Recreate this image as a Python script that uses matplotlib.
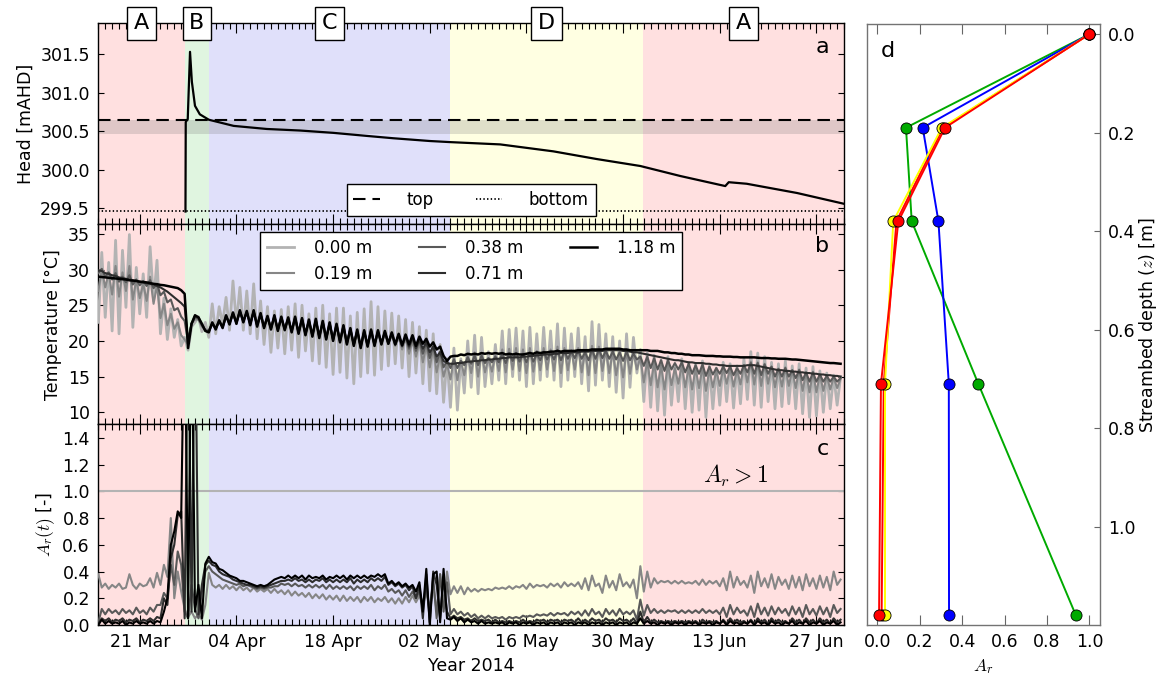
import numpy as np
import matplotlib
matplotlib.use('Agg')
import matplotlib.pyplot as plt
import matplotlib.transforms as mtransforms
from matplotlib.ticker import MultipleLocator, FixedLocator, FormatStrFormatter

# ---------------- data ----------------
# x axis: days since 15 Mar 2014
tick_days = [6, 20, 34, 48, 62, 76, 90, 104]
tick_labels = ['21 Mar', '04 Apr', '18 Apr', '02 May', '16 May', '30 May', '13 Jun', '27 Jun']

region_names = ['A', 'B', 'C', 'D', 'A']
region_edges = [0, 12.55, 16.0, 50.95, 78.85, 108]
region_colors = ['#ffe0e0', '#e0f5e0', '#e0e0fa', '#ffffe2', '#ffe0e0']

# panel a: hydraulic head
head_days = [12.62, 12.66, 12.95, 13.28, 13.55, 14.0, 14.7, 16.0, 19.6, 24.4, 29.2, 34.0,
             38.9, 42.7, 48.0, 50.9, 58.2, 65.9, 72.2, 78.5, 84.3, 90.8, 91.3, 93.9, 101.2, 108.0]
head_vals = [299.46, 300.62, 300.66, 301.53, 301.14, 300.83, 300.72, 300.65, 300.57, 300.53, 300.51, 300.48,
             300.44, 300.41, 300.374, 300.36, 300.33, 300.24, 300.14, 300.05, 299.92, 299.79, 299.84, 299.82, 299.70, 299.56]
streambed_top = 300.64
streambed_bottom = 299.47
band_lo, band_hi = 300.46, 300.64

# panel b: temperature, half-day samples (d.0, d.5) from 15 Mar
depth_labels = ['0.00 m', '0.19 m', '0.38 m', '0.71 m', '1.18 m']
temp_000 = [
    22.6, 32.4, 23.3, 31.0, 21.4, 34.1, 21.0, 32.7, 24.7, 34.9,
    21.9, 30.3, 23.8, 29.4, 23.3, 33.2, 25.6, 31.3, 21.0, 26.0,
    20.2, 24.5, 20.5, 23.0, 19.3, 20.5,
    18.7, 22.0, 22.6, 23.4, 21.3, 22.6,
    20.5, 25.2, 21.0, 24.8, 22.4, 26.1, 21.5, 28.4, 22.4, 27.5,
    21.5, 27.0, 21.0, 28.0, 20.3, 25.6, 19.5, 24.8, 18.4, 24.2,
    19.0, 24.4, 18.2, 24.8, 18.7, 25.2, 17.7, 25.0, 18.6, 23.8,
    17.2, 24.6, 16.8, 25.0, 16.3, 23.8, 15.3, 24.6, 15.6, 24.6,
    14.8, 23.5, 14.0, 24.0, 15.0, 24.5, 15.5, 25.5, 15.2, 24.8,
    16.0, 24.2, 16.5, 23.9, 16.8, 23.5, 16.2, 23.0, 15.0, 22.6,
    15.5, 22.0, 14.0, 21.5, 13.0, 21.0, 12.6, 19.5, 11.4, 17.5,
    10.7, 19.0, 10.3, 17.5, 12.7, 20.0, 13.5, 20.8, 12.6, 20.5,
    13.6, 18.5, 14.0, 19.5, 14.5, 21.4, 14.0, 21.6, 15.0, 21.8,
    14.5, 21.4, 13.6, 21.9, 14.0, 21.0, 14.5, 21.9, 15.0, 21.4,
    14.5, 22.4, 13.6, 21.8, 14.5, 21.0, 15.0, 21.8, 14.0, 20.6,
    13.0, 22.7, 13.8, 22.3, 14.5, 21.0, 13.6, 20.6, 12.8, 20.0,
    12.0, 21.0, 13.5, 20.5, 15.5, 18.8,
    11.5, 18.3, 10.7, 18.0, 10.2, 17.3, 9.6, 17.8, 11.0, 16.4,
    11.5, 17.5, 10.5, 17.0, 10.0, 16.8, 10.3, 17.2, 9.3, 16.5,
    10.5, 16.2, 11.0, 17.0, 11.5, 16.8, 10.6, 16.5, 11.2, 17.5,
    11.8, 18.5, 11.0, 18.3, 10.7, 17.8, 11.5, 17.0, 10.5, 16.8,
    10.8, 17.2, 11.2, 16.5, 10.5, 16.8, 9.8, 16.2, 9.3, 16.4,
    9.5, 15.8, 10.0, 15.5, 10.5, 15.2, 11.0, 15.0]
temp_019 = [
    27.0, 30.0, 27.5, 29.5, 26.5, 30.5, 26.2, 29.6, 27.0, 30.5,
    25.8, 28.6, 26.0, 28.0, 25.6, 29.0, 25.2, 27.8, 23.2, 25.2,
    22.2, 23.8, 21.7, 22.6, 20.8, 20.2,
    19.5, 22.5, 23.0, 23.0, 22.0, 21.6,
    21.5, 22.3, 21.9, 22.6, 22.1, 23.3, 22.6, 23.7, 22.7, 24.0,
    22.9, 23.9, 22.5, 24.0, 22.3, 23.6, 22.1, 23.2, 21.9, 23.3,
    21.7, 23.1, 21.8, 23.0, 21.5, 23.1, 21.3, 22.9, 21.1, 22.7,
    20.9, 22.8, 20.7, 22.5, 20.5, 22.3, 20.3, 22.1, 20.1, 21.9,
    19.8, 21.5, 19.6, 21.3, 19.3, 21.2, 19.5, 21.3, 19.6, 21.2,
    19.7, 21.0, 19.6, 20.8, 19.3, 20.5, 18.8, 20.4, 18.2, 20.0,
    17.8, 19.8, 17.0, 19.4, 16.3, 19.0, 15.6, 18.0, 15.0, 16.8,
    14.6, 17.6, 14.5, 17.2, 15.2, 18.0, 15.5, 18.4, 15.0, 18.3,
    15.6, 17.6, 15.7, 18.0, 15.8, 18.8, 15.6, 18.9, 16.0, 19.0,
    15.8, 18.8, 15.5, 19.0, 15.7, 18.6, 15.9, 19.0, 16.0, 18.8,
    15.8, 19.2, 15.5, 19.0, 15.9, 18.7, 16.0, 19.0, 15.6, 18.5,
    15.2, 19.3, 15.5, 19.2, 15.8, 18.7, 15.5, 18.5, 15.2, 18.3,
    14.9, 18.6, 15.4, 18.3, 16.0, 17.7,
    14.2, 17.2, 13.8, 17.0, 13.5, 16.6, 13.2, 16.8, 13.8, 16.2,
    14.0, 16.6, 13.5, 16.3, 13.2, 16.2, 13.4, 16.4, 13.0, 16.0,
    13.5, 15.9, 13.7, 16.2, 14.0, 16.2, 13.6, 16.0, 13.9, 16.6,
    14.2, 17.1, 13.9, 17.0, 13.7, 16.8, 14.0, 16.4, 13.5, 16.1,
    13.6, 16.3, 13.7, 15.9, 13.4, 16.0, 13.0, 15.6, 12.8, 15.7,
    12.8, 15.3, 13.0, 15.1, 13.2, 14.9, 13.4, 14.7]
temp_038 = [
    29.5, 30.1, 29.0, 29.6, 28.6, 29.5, 28.3, 29.0, 28.2, 29.2,
    27.9, 28.6, 27.8, 28.4, 27.7, 28.5, 27.4, 28.0, 26.4, 26.9,
    25.4, 25.8, 24.3, 24.6, 23.4, 22.8,
    19.8, 22.4, 23.3, 23.1, 22.2, 21.5,
    21.4, 22.4, 21.8, 22.7, 22.0, 23.4, 22.5, 23.8, 22.6, 24.1,
    22.8, 24.0, 22.4, 24.1, 22.2, 23.7, 22.0, 23.3, 21.8, 23.4,
    21.6, 23.2, 21.7, 23.1, 21.4, 23.2, 21.2, 23.0, 21.0, 22.8,
    20.8, 22.9, 20.6, 22.6, 20.4, 22.4, 20.2, 22.2, 20.0, 22.0,
    19.7, 21.6, 19.5, 21.4, 19.2, 21.3, 19.4, 21.4, 19.5, 21.3,
    19.7, 21.2, 19.7, 21.0, 19.5, 20.8, 19.2, 20.6, 18.9, 20.4,
    18.6, 20.1, 18.2, 19.8, 17.6, 19.3, 17.0, 18.5, 16.3, 17.2,
    16.2, 17.4, 16.2, 17.2, 16.6, 17.7, 16.8, 17.9, 16.6, 17.9,
    16.9, 17.6, 17.0, 17.8, 17.0, 18.2, 16.9, 18.2, 17.2, 18.3,
    17.1, 18.2, 17.0, 18.4, 17.1, 18.2, 17.3, 18.5, 17.4, 18.4,
    17.4, 18.7, 17.3, 18.6, 17.5, 18.5, 17.6, 18.7, 17.5, 18.4,
    17.3, 18.8, 17.5, 18.8, 17.6, 18.6, 17.5, 18.5, 17.4, 18.4,
    17.2, 18.5, 17.3, 18.2, 17.4, 17.8,
    16.5, 17.8, 16.2, 17.6, 16.0, 17.3, 15.8, 17.3, 16.0, 16.9,
    16.0, 17.0, 15.6, 16.8, 15.4, 16.6, 15.4, 16.7, 15.1, 16.4,
    15.3, 16.2, 15.4, 16.4, 15.5, 16.4, 15.2, 16.2, 15.4, 16.6,
    15.6, 16.9, 15.4, 16.9, 15.2, 16.7, 15.4, 16.4, 15.0, 16.1,
    15.0, 16.2, 15.0, 15.9, 14.8, 15.9, 14.5, 15.6, 14.3, 15.6,
    14.3, 15.3, 14.3, 15.1, 14.3, 15.0, 14.3, 14.8]
temp_071 = [
    29.9, 29.8, 29.5, 29.4, 29.2, 29.1, 28.9, 28.8, 28.7, 28.6,
    28.5, 28.4, 28.3, 28.2, 28.1, 28.0, 27.9, 27.7, 27.5, 27.2,
    26.9, 26.5, 26.1, 25.7, 25.3, 24.8,
    20.0, 22.4, 23.5, 23.3, 22.3, 21.4,
    21.3, 22.5, 21.7, 22.8, 21.9, 23.5, 22.4, 23.9, 22.5, 24.2,
    22.7, 24.1, 22.3, 24.2, 22.1, 23.8, 21.9, 23.4, 21.7, 23.5,
    21.5, 23.3, 21.6, 23.2, 21.3, 23.3, 21.1, 23.1, 20.9, 22.9,
    20.7, 23.0, 20.5, 22.7, 20.3, 22.5, 20.1, 22.3, 19.9, 22.1,
    19.6, 21.7, 19.4, 21.5, 19.1, 21.4, 19.3, 21.5, 19.4, 21.4,
    19.6, 21.3, 19.6, 21.1, 19.5, 20.9, 19.3, 20.7, 19.2, 20.5,
    19.0, 20.2, 18.9, 19.8, 18.4, 19.2, 17.8, 18.4, 17.2, 16.9,
    16.8, 16.8, 16.9, 16.9, 17.0, 17.1, 17.1, 17.2, 17.2, 17.3,
    17.3, 17.4, 17.4, 17.5, 17.5, 17.6, 17.6, 17.7, 17.7, 17.7,
    17.7, 17.8, 17.8, 17.9, 17.9, 18.0, 18.0, 18.1, 18.1, 18.1,
    18.2, 18.2, 18.3, 18.3, 18.3, 18.4, 18.4, 18.4, 18.5, 18.5,
    18.5, 18.6, 18.6, 18.6, 18.6, 18.7, 18.7, 18.7, 18.7, 18.7,
    18.6, 18.6, 18.5, 18.4, 18.4, 18.3,
    18.2, 18.1, 18.0, 17.9, 17.8, 17.7, 17.6, 17.5, 17.4, 17.3,
    17.3, 17.2, 17.1, 17.0, 17.0, 16.9, 16.9, 16.9, 16.8, 16.8,
    16.7, 16.7, 16.6, 16.6, 16.5, 16.5, 16.5, 16.5, 16.5, 16.5,
    16.6, 16.6, 16.6, 16.5, 16.4, 16.3, 16.2, 16.1, 16.0, 15.9,
    15.9, 15.8, 15.8, 15.7, 15.7, 15.6, 15.6, 15.5, 15.5, 15.4,
    15.4, 15.3, 15.3, 15.2, 15.2, 15.1, 15.1, 15.0]
temp_118 = [
    29.0, 28.95, 28.9, 28.85, 28.8, 28.75, 28.7, 28.65, 28.6, 28.5,
    28.45, 28.4, 28.3, 28.25, 28.2, 28.1, 28.0, 27.95, 27.85, 27.8,
    27.7, 27.6, 27.5, 27.4, 27.1, 26.6,
    19.0, 22.4, 23.6, 23.3, 22.4, 21.4,
    21.2, 22.6, 21.6, 22.9, 21.8, 23.6, 22.3, 24.0, 22.4, 24.3,
    22.6, 24.2, 22.2, 24.3, 22.0, 23.9, 21.8, 23.5, 21.6, 23.6,
    21.4, 23.4, 21.5, 23.3, 21.2, 23.4, 21.0, 23.2, 20.8, 23.0,
    20.6, 23.1, 20.4, 22.8, 20.2, 22.6, 20.0, 22.4, 19.8, 22.2,
    19.5, 21.8, 19.3, 21.6, 19.0, 21.5, 19.2, 21.6, 19.3, 21.5,
    19.5, 21.4, 19.6, 21.2, 19.5, 21.0, 19.4, 20.9, 19.5, 20.8,
    19.3, 20.6, 19.6, 20.3, 19.2, 19.8, 18.8, 19.2, 17.9, 17.2,
    17.8, 17.9, 17.9, 18.1, 18.0, 18.2, 18.1, 18.2, 18.1, 18.3,
    18.2, 18.3, 18.2, 18.3, 18.2, 18.3, 18.1, 18.2, 18.1, 18.2,
    18.1, 18.1, 18.2, 18.3, 18.2, 18.4, 18.3, 18.4, 18.4, 18.5,
    18.5, 18.6, 18.5, 18.6, 18.6, 18.6, 18.6, 18.7, 18.7, 18.7,
    18.7, 18.8, 18.8, 18.8, 18.8, 18.9, 18.9, 18.9, 18.9, 18.9,
    18.8, 18.8, 18.7, 18.7, 18.7, 18.7,
    18.7, 18.7, 18.6, 18.6, 18.6, 18.5, 18.4, 18.4, 18.3, 18.3,
    18.2, 18.2, 18.1, 18.1, 18.0, 18.0, 18.0, 17.95, 17.9, 17.9,
    17.9, 17.85, 17.85, 17.8, 17.8, 17.8, 17.75, 17.75, 17.7, 17.7,
    17.7, 17.7, 17.7, 17.65, 17.6, 17.6, 17.6, 17.55, 17.55, 17.5,
    17.5, 17.5, 17.45, 17.4, 17.4, 17.35, 17.3, 17.25, 17.2, 17.15,
    17.1, 17.05, 17.0, 16.95, 16.9, 16.9, 16.85, 16.8]

# panel c: amplitude ratio A_r(t), half-day samples
ar_surface = 1.0
ar_019 = [
    0.38, 0.28, 0.31, 0.27, 0.30, 0.28, 0.31, 0.27, 0.28, 0.38,
    0.30, 0.27, 0.31, 0.29, 0.30, 0.35, 0.28, 0.39, 0.30, 0.45,
    0.36, 0.80, 0.20, 0.40, 0.25, 0.12,
    0.06, 0.10, 0.05, 0.08, 0.04, 0.15,
    0.39, 0.30, 0.28, 0.30, 0.27, 0.30, 0.27, 0.29, 0.26, 0.29,
    0.26, 0.28, 0.25, 0.28, 0.25, 0.27, 0.25, 0.27, 0.24, 0.27,
    0.24, 0.26, 0.23, 0.26, 0.22, 0.25, 0.22, 0.24, 0.21, 0.24,
    0.20, 0.23, 0.20, 0.23, 0.19, 0.22, 0.19, 0.22, 0.18, 0.22,
    0.18, 0.21, 0.18, 0.21, 0.17, 0.21, 0.18, 0.21, 0.17, 0.20,
    0.18, 0.21, 0.17, 0.20, 0.16, 0.20, 0.16, 0.21, 0.17, 0.22,
    0.17, 0.22, 0.15, 0.24, 0.12, 0.30, 0.10, 0.38, 0.15, 0.40,
    0.23, 0.29, 0.24, 0.29, 0.23, 0.28, 0.25, 0.27, 0.25, 0.27,
    0.26, 0.27, 0.26, 0.28, 0.27, 0.28, 0.27, 0.29, 0.27, 0.29,
    0.28, 0.30, 0.27, 0.31, 0.28, 0.30, 0.29, 0.30, 0.28, 0.31,
    0.29, 0.31, 0.28, 0.32, 0.29, 0.31, 0.29, 0.32, 0.27, 0.35,
    0.26, 0.37, 0.29, 0.31, 0.24, 0.37, 0.28, 0.33, 0.26, 0.38,
    0.29, 0.32, 0.28, 0.34, 0.20, 0.44,
    0.25, 0.40, 0.28, 0.35, 0.31, 0.33, 0.32, 0.33, 0.31, 0.33,
    0.31, 0.33, 0.31, 0.32, 0.31, 0.33, 0.30, 0.34, 0.30, 0.33,
    0.31, 0.33, 0.29, 0.35, 0.26, 0.40, 0.28, 0.36, 0.30, 0.33,
    0.28, 0.37, 0.24, 0.40, 0.29, 0.35, 0.28, 0.38, 0.27, 0.36,
    0.30, 0.34, 0.27, 0.37, 0.28, 0.36, 0.26, 0.38, 0.29, 0.35,
    0.27, 0.37, 0.28, 0.36, 0.26, 0.40, 0.30, 0.34]
ar_038 = [
    0.02, 0.12, 0.08, 0.12, 0.09, 0.11, 0.08, 0.12, 0.09, 0.11,
    0.08, 0.13, 0.09, 0.11, 0.08, 0.13, 0.10, 0.15, 0.15, 0.24,
    0.20, 0.45, 0.30, 0.55, 0.45, 0.10,
    0.05, 0.30, 0.12, 0.05, 0.25, 0.40,
    0.44, 0.40, 0.38, 0.36, 0.34, 0.33, 0.32, 0.31, 0.30, 0.31,
    0.29, 0.30, 0.29, 0.28, 0.27, 0.28, 0.27, 0.28, 0.28, 0.29,
    0.29, 0.31, 0.30, 0.31, 0.29, 0.31, 0.29, 0.30, 0.28, 0.30,
    0.28, 0.30, 0.28, 0.30, 0.27, 0.30, 0.27, 0.29, 0.27, 0.29,
    0.27, 0.29, 0.26, 0.29, 0.27, 0.29, 0.27, 0.30, 0.26, 0.29,
    0.27, 0.30, 0.25, 0.27, 0.24, 0.26, 0.22, 0.26, 0.21, 0.25,
    0.20, 0.25, 0.15, 0.30, 0.08, 0.35, 0.05, 0.38, 0.10, 0.32,
    0.08, 0.12, 0.08, 0.10, 0.07, 0.09, 0.06, 0.08, 0.05, 0.07,
    0.05, 0.07, 0.05, 0.06, 0.05, 0.06, 0.04, 0.06, 0.05, 0.06,
    0.05, 0.07, 0.06, 0.07, 0.06, 0.08, 0.07, 0.08, 0.07, 0.09,
    0.07, 0.09, 0.08, 0.09, 0.07, 0.10, 0.08, 0.10, 0.07, 0.11,
    0.07, 0.12, 0.08, 0.10, 0.06, 0.12, 0.08, 0.11, 0.07, 0.12,
    0.08, 0.10, 0.08, 0.11, 0.04, 0.19,
    0.07, 0.15, 0.09, 0.12, 0.09, 0.11, 0.09, 0.11, 0.10, 0.11,
    0.09, 0.11, 0.09, 0.11, 0.09, 0.11, 0.09, 0.12, 0.09, 0.11,
    0.09, 0.11, 0.08, 0.13, 0.06, 0.15, 0.08, 0.13, 0.09, 0.11,
    0.07, 0.14, 0.06, 0.16, 0.08, 0.13, 0.07, 0.14, 0.08, 0.13,
    0.09, 0.12, 0.07, 0.14, 0.08, 0.13, 0.06, 0.15, 0.08, 0.12,
    0.07, 0.14, 0.08, 0.13, 0.06, 0.15, 0.09, 0.12]
ar_071 = [
    0.01, 0.05, 0.03, 0.05, 0.02, 0.04, 0.03, 0.05, 0.02, 0.04,
    0.03, 0.05, 0.02, 0.04, 0.03, 0.05, 0.03, 0.06, 0.05, 0.20,
    0.15, 0.50, 0.60, 0.82, 0.85, 0.05,
    2.50, 0.10, 2.50, 0.08, 0.30, 0.45,
    0.48, 0.45, 0.44, 0.40, 0.38, 0.37, 0.36, 0.34, 0.33, 0.32,
    0.31, 0.30, 0.30, 0.29, 0.28, 0.29, 0.28, 0.29, 0.30, 0.31,
    0.32, 0.33, 0.33, 0.34, 0.33, 0.35, 0.33, 0.34, 0.32, 0.34,
    0.32, 0.34, 0.33, 0.35, 0.32, 0.34, 0.32, 0.34, 0.32, 0.34,
    0.32, 0.35, 0.31, 0.34, 0.32, 0.34, 0.32, 0.35, 0.33, 0.35,
    0.33, 0.36, 0.30, 0.32, 0.29, 0.31, 0.28, 0.30, 0.26, 0.29,
    0.20, 0.30, 0.05, 0.38, 0.02, 0.40, 0.30, 0.05, 0.35, 0.10,
    0.05, 0.07, 0.05, 0.06, 0.04, 0.05, 0.03, 0.05, 0.03, 0.04,
    0.03, 0.04, 0.02, 0.04, 0.02, 0.03, 0.02, 0.03, 0.02, 0.03,
    0.02, 0.04, 0.02, 0.03, 0.02, 0.04, 0.03, 0.04, 0.02, 0.04,
    0.03, 0.04, 0.02, 0.04, 0.03, 0.04, 0.02, 0.05, 0.02, 0.04,
    0.02, 0.05, 0.03, 0.04, 0.02, 0.05, 0.03, 0.04, 0.02, 0.05,
    0.03, 0.04, 0.02, 0.05, 0.01, 0.10,
    0.02, 0.06, 0.02, 0.04, 0.02, 0.03, 0.02, 0.03, 0.02, 0.03,
    0.02, 0.03, 0.02, 0.03, 0.02, 0.03, 0.01, 0.04, 0.02, 0.03,
    0.02, 0.03, 0.01, 0.04, 0.01, 0.05, 0.02, 0.04, 0.02, 0.03,
    0.01, 0.04, 0.01, 0.05, 0.02, 0.04, 0.01, 0.05, 0.02, 0.04,
    0.02, 0.03, 0.01, 0.05, 0.02, 0.04, 0.01, 0.05, 0.02, 0.04,
    0.01, 0.05, 0.02, 0.04, 0.01, 0.05, 0.02, 0.04]
ar_118 = [
    0.00, 0.04, 0.01, 0.03, 0.01, 0.02, 0.01, 0.03, 0.00, 0.02,
    0.01, 0.03, 0.01, 0.02, 0.01, 0.03, 0.01, 0.03, 0.02, 0.10,
    0.20, 0.60, 0.70, 0.85, 0.80, 2.50,
    0.05, 2.50, 0.10, 0.30, 0.05, 0.46,
    0.51, 0.47, 0.46, 0.42, 0.41, 0.39, 0.37, 0.36, 0.35, 0.33,
    0.33, 0.32, 0.31, 0.30, 0.29, 0.30, 0.29, 0.30, 0.32, 0.34,
    0.35, 0.36, 0.35, 0.37, 0.35, 0.37, 0.35, 0.37, 0.34, 0.37,
    0.35, 0.36, 0.35, 0.37, 0.34, 0.36, 0.35, 0.37, 0.35, 0.37,
    0.34, 0.37, 0.35, 0.37, 0.35, 0.37, 0.35, 0.37, 0.36, 0.38,
    0.36, 0.38, 0.31, 0.33, 0.30, 0.32, 0.29, 0.31, 0.28, 0.30,
    0.25, 0.32, 0.10, 0.42, 0.00, 0.38, 0.40, 0.02, 0.42, 0.05,
    0.04, 0.06, 0.03, 0.05, 0.02, 0.04, 0.02, 0.03, 0.01, 0.03,
    0.01, 0.02, 0.01, 0.02, 0.01, 0.02, 0.00, 0.02, 0.01, 0.02,
    0.00, 0.02, 0.01, 0.02, 0.00, 0.02, 0.01, 0.02, 0.00, 0.02,
    0.01, 0.02, 0.00, 0.02, 0.01, 0.02, 0.00, 0.02, 0.01, 0.02,
    0.00, 0.02, 0.01, 0.02, 0.00, 0.02, 0.01, 0.02, 0.00, 0.02,
    0.01, 0.02, 0.00, 0.02, 0.01, 0.05,
    0.01, 0.03, 0.01, 0.02, 0.00, 0.02, 0.01, 0.02, 0.00, 0.02,
    0.01, 0.02, 0.00, 0.02, 0.01, 0.02, 0.00, 0.02, 0.01, 0.02,
    0.00, 0.02, 0.01, 0.03, 0.00, 0.03, 0.01, 0.02, 0.00, 0.02,
    0.01, 0.03, 0.00, 0.03, 0.01, 0.02, 0.00, 0.03, 0.01, 0.02,
    0.00, 0.02, 0.01, 0.03, 0.00, 0.02, 0.01, 0.03, 0.00, 0.02,
    0.01, 0.03, 0.00, 0.02, 0.01, 0.03, 0.00, 0.02]

# panel d: mean amplitude ratio profiles per period
depths = [0.0, 0.19, 0.38, 0.71, 1.18]
profile_A1 = [1.0, 0.31, 0.09, 0.03, 0.02]
profile_B = [1.0, 0.135, 0.162, 0.476, 0.936]
profile_C = [1.0, 0.214, 0.288, 0.337, 0.338]
profile_D = [1.0, 0.304, 0.075, 0.036, 0.036]
profile_A2 = [1.0, 0.319, 0.099, 0.017, 0.008]

# ---------------- style ----------------
plt.rcParams.update({
    'font.family': ['DejaVu Sans'],
    'mathtext.fontset': 'cm',
    'font.size': 12.5,
    'xtick.direction': 'in', 'ytick.direction': 'in',
    'xtick.top': True, 'ytick.right': True,
    'xtick.major.size': 7, 'xtick.minor.size': 4,
    'ytick.major.size': 4.5, 'ytick.minor.size': 2.5,
    'xtick.major.pad': 6, 'ytick.major.pad': 6,
    'xtick.labelsize': 12.5, 'ytick.labelsize': 12.5,
    'axes.labelsize': 12.5,
    'axes.linewidth': 1.0,
    'lines.scale_dashes': False,
    'legend.fancybox': False,
    'legend.framealpha': 1.0,
    'legend.edgecolor': 'black',
    'legend.fontsize': 12,
})

fig = plt.figure(figsize=(11.65, 6.79), dpi=100)
L, W = 0.0844, 0.6401
H = 0.2954
ax_a = fig.add_axes([L, 0.0795 + 2 * H, W, H])
ax_b = fig.add_axes([L, 0.0795 + H, W, H])
ax_c = fig.add_axes([L, 0.0795, W, H])
ax_d = fig.add_axes([0.7440, 0.0795, 0.2002, 0.8847])

grays = ['#b3b3b3', '#868686', '#595959', '#2d2d2d', '#000000']

for ax in (ax_a, ax_b, ax_c):
    for i in range(len(region_names)):
        ax.axvspan(region_edges[i], region_edges[i + 1], color=region_colors[i], lw=0, zorder=0)
    ax.set_xlim(region_edges[0], region_edges[-1])
    ax.xaxis.set_major_locator(FixedLocator(tick_days))
    ax.xaxis.set_minor_locator(MultipleLocator(1))
    ax.tick_params(which='both', width=0.8)

# ---- panel a
ax_a.axhspan(band_lo, band_hi, color='0.5', alpha=0.25, lw=0, zorder=1)
l_top, = ax_a.plot([region_edges[0], region_edges[-1]], [streambed_top] * 2, color='k', lw=1.5,
                   dashes=(9, 5), label='top', zorder=2)
l_bot, = ax_a.plot([region_edges[0], region_edges[-1]], [streambed_bottom] * 2, color='k', lw=1.3,
                   ls=':', label='bottom', zorder=2)
ax_a.plot(head_days, head_vals, color='k', lw=1.6, zorder=3)
ax_a.set_ylim(299.3, 301.9)
ax_a.set_yticks([299.5, 300.0, 300.5, 301.0, 301.5])
ax_a.yaxis.set_major_formatter(FormatStrFormatter('%.1f'))
ax_a.set_ylabel('Head [mAHD]')
ax_a.tick_params(labelbottom=False)
ax_a.legend(handles=[l_top, l_bot], loc='lower center', ncol=2, handlelength=1.6,
            handletextpad=1.6, columnspacing=2.5, borderaxespad=0.5)
trans = mtransforms.blended_transform_factory(ax_a.transData, ax_a.transAxes)
for i, name in enumerate(region_names):
    xc = 0.5 * (region_edges[i] + region_edges[i + 1])
    ax_a.text(xc, 1.0, name, transform=trans, ha='center', va='center', fontsize=16,
              bbox=dict(boxstyle='square,pad=0.3', fc='white', ec='black', lw=1.0),
              zorder=20, clip_on=False)
ax_a.text(0.98, 0.88, 'a', transform=ax_a.transAxes, ha='right', va='center', fontsize=16)

# ---- panel b
temps = [temp_000, temp_019, temp_038, temp_071, temp_118]
lws = [2.0, 1.5, 1.5, 1.5, 1.8]
lines_b = []
for vals, col, lw, lab in zip(temps, grays, lws, depth_labels):
    t = 0.5 * np.arange(len(vals))
    ln, = ax_b.plot(t, vals, color=col, lw=lw, label=lab, zorder=3)
    lines_b.append(ln)
ax_b.set_ylim(8.3, 36.4)
ax_b.set_yticks([10, 15, 20, 25, 30, 35])
ax_b.set_ylabel('Temperature [°C]')
ax_b.tick_params(labelbottom=False)
ax_b.legend(handles=lines_b, loc='upper center', ncol=3, handlelength=1.6,
            handletextpad=1.2, columnspacing=2.8, borderaxespad=0.5)
ax_b.text(0.98, 0.89, 'b', transform=ax_b.transAxes, ha='right', va='center', fontsize=16)

# ---- panel c
ax_c.axhline(ar_surface, color=grays[0], lw=1.5, zorder=2)
for vals, col in zip([ar_019, ar_038, ar_071, ar_118], grays[1:]):
    t = 0.5 * np.arange(len(vals))
    ax_c.plot(t, vals, color=col, lw=1.5, zorder=3)
ax_c.set_ylim(0, 1.5)
ax_c.set_yticks([0.0, 0.2, 0.4, 0.6, 0.8, 1.0, 1.2, 1.4])
ax_c.yaxis.set_major_formatter(FormatStrFormatter('%.1f'))
ax_c.set_ylabel(r'$A_r(t)$ [-]')
ax_c.set_xticklabels(tick_labels)
ax_c.set_xlabel('Year 2014')
ax_c.text(92.3, 1.02, r'$A_r > 1$', ha='center', va='bottom', fontsize=17, zorder=5)
ax_c.text(0.98, 0.88, 'c', transform=ax_c.transAxes, ha='right', va='center', fontsize=16)

# ---- panel d
profiles = [profile_A1, profile_B, profile_C, profile_D, profile_A2]
pcols = ['#ff0000', '#00aa00', '#0000ff', '#ffff00', '#ff0000']
for prof, col in zip(profiles, pcols):
    ax_d.plot(prof, depths, '-o', color=col, lw=1.4, ms=8, mec='k', mew=0.6, zorder=3)
ax_d.set_xlim(-0.05, 1.05)
ax_d.set_ylim(1.2, -0.02)
ax_d.set_xticks([0.0, 0.2, 0.4, 0.6, 0.8, 1.0])
ax_d.set_yticks([0.0, 0.2, 0.4, 0.6, 0.8, 1.0])
ax_d.xaxis.set_major_formatter(FormatStrFormatter('%.1f'))
ax_d.yaxis.set_major_formatter(FormatStrFormatter('%.1f'))
ax_d.yaxis.tick_right()
ax_d.yaxis.set_label_position('right')
ax_d.tick_params(axis='y', left=False, right=True, labelleft=False, labelright=True)
ax_d.tick_params(axis='x', top=True, bottom=True)
ax_d.tick_params(which='both', color='0.4', width=0.8)
for sp in ax_d.spines.values():
    sp.set_color('0.45')
ax_d.set_ylabel(r'Streambed depth ($z$) [m]', labelpad=1)
ax_d.set_xlabel(r'$A_r$')
ax_d.text(0.06, 0.955, 'd', transform=ax_d.transAxes, ha='left', va='center', fontsize=16)

fig.savefig('out.png', dpi=100, facecolor='white')
